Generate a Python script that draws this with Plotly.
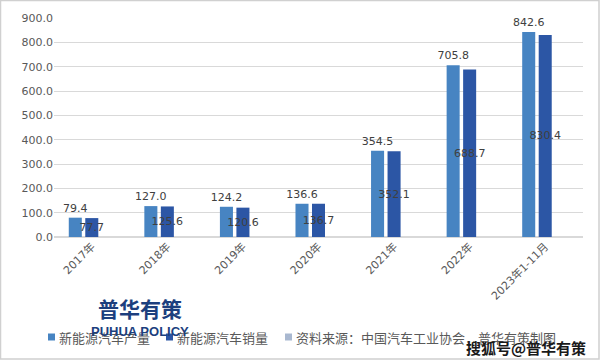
import plotly.graph_objects as go

categories = ["2017年", "2018年", "2019年", "2020年", "2021年", "2022年", "2023年1-11月"]
production = [79.4, 127.0, 124.2, 136.6, 354.5, 705.8, 842.6]
sales = [77.7, 125.6, 120.6, 136.7, 352.1, 688.7, 830.4]
source_series = [None, None, None, None, None, None, None]  # empty third series (legend-only in source)
y_ticks = [0, 100, 200, 300, 400, 500, 600, 700, 800, 900]
name_prod = "新能源汽车产量"
name_sales = "新能源汽车销量"
name_source = "资料来源：中国汽车工业协会，普华有策制图"

W, H = 601, 361
L, R, T, B = 54, 18, 18, 124
pw, ph = W - L - R, H - T - B

def px(x):
    return (x - L) / pw

def py(y):
    return (H - B - y) / ph

FONT = "DejaVu Sans, Noto Sans CJK SC, sans-serif"
CJK = "Noto Sans CJK SC, sans-serif"
GRAY = "#595959"
C_PROD = "#4784c2"
C_SALES = "#2c56a5"
C_SRC = "#a9b8d0"

fig = go.Figure()
fig.add_trace(go.Bar(
    x=categories, y=production, name=name_prod,
    marker=dict(color=C_PROD, line=dict(width=0)),
    text=[f"{v:.1f}" for v in production], textposition="outside",
    textfont=dict(size=11, color="#404040", family=FONT), cliponaxis=False,
    textangle=0,
))
fig.add_trace(go.Bar(
    x=categories, y=sales, name=name_sales,
    marker=dict(color=C_SALES, line=dict(width=0)),
    text=[f"{v:.1f}" for v in sales], textposition="inside",
    insidetextanchor="middle", constraintext="none", textangle=0,
    insidetextfont=dict(size=11, color="#404040", family=FONT),
))
fig.add_trace(go.Bar(
    x=categories, y=source_series, name=name_source,
    marker=dict(color=C_SRC, line=dict(width=0)), hoverinfo="skip",
))

# legend drawn as small squares + labels
legend_items = [(name_prod, C_PROD, 48), (name_sales, C_SALES, 166), (name_source, C_SRC, 285)]
shapes = [dict(type="rect", xref="paper", yref="paper",
               x0=px(0.5), x1=px(599), y0=py(359), y1=py(0.5),
               line=dict(color="#d0d0d0", width=1.5), layer="below")]
annotations = []
for name, col, x in legend_items:
    shapes.append(dict(type="rect", xref="paper", yref="paper",
                       x0=px(x), x1=px(x + 7), y0=py(340.5), y1=py(333.5),
                       fillcolor=col, line=dict(width=0)))
    annotations.append(dict(text=name, xref="paper", yref="paper", x=px(x + 9), y=py(337),
                            xanchor="left", yanchor="middle", showarrow=False,
                            font=dict(family=CJK, size=13, color=GRAY)))

annotations += [
    dict(text="<b>普华有策</b>", xref="paper", yref="paper", x=px(140), y=py(308),
         xanchor="center", yanchor="middle", showarrow=False,
         font=dict(family=CJK, size=21, color="#1c3f7e")),
    dict(text="<b>PUHUA POLICY</b>", xref="paper", yref="paper", x=px(140), y=py(331),
         xanchor="center", yanchor="middle", showarrow=False,
         font=dict(family="Liberation Sans, Arial, sans-serif", size=13, color="#1c3f7e")),
    dict(text="<b>搜狐号@普华有策</b>", xref="paper", yref="paper", x=px(588), y=py(347),
         xanchor="right", yanchor="middle", showarrow=False,
         font=dict(family=CJK, size=15, color="#1a1a1a")),
]

fig.update_layout(
    width=W, height=H,
    margin=dict(l=L, r=R, t=T, b=B, autoexpand=False),
    paper_bgcolor="white", plot_bgcolor="white",
    barmode="group", bargap=0.345, bargroupgap=0.21,
    uniformtext=dict(minsize=11, mode="show"),
    font=dict(family=FONT, size=11, color=GRAY),
    showlegend=False,
    xaxis=dict(tickangle=-45, tickfont=dict(size=11, color=GRAY, family=FONT),
               showgrid=False, showline=False, ticks="", fixedrange=True, automargin=False),
    yaxis=dict(range=[0, 900], tickvals=y_ticks, tickformat=".1f",
               tickfont=dict(size=11, color=GRAY, family=FONT),
               showgrid=True, gridcolor="#d9d9d9", gridwidth=1,
               zeroline=True, zerolinecolor="#d9d9d9", showline=False, ticks="",
               fixedrange=True, automargin=False),
    shapes=shapes,
    annotations=annotations,
)

fig.write_html("out.html", config={"displayModeBar": False},
               post_script="document.body.style.margin='0';document.body.style.overflow='hidden';")
